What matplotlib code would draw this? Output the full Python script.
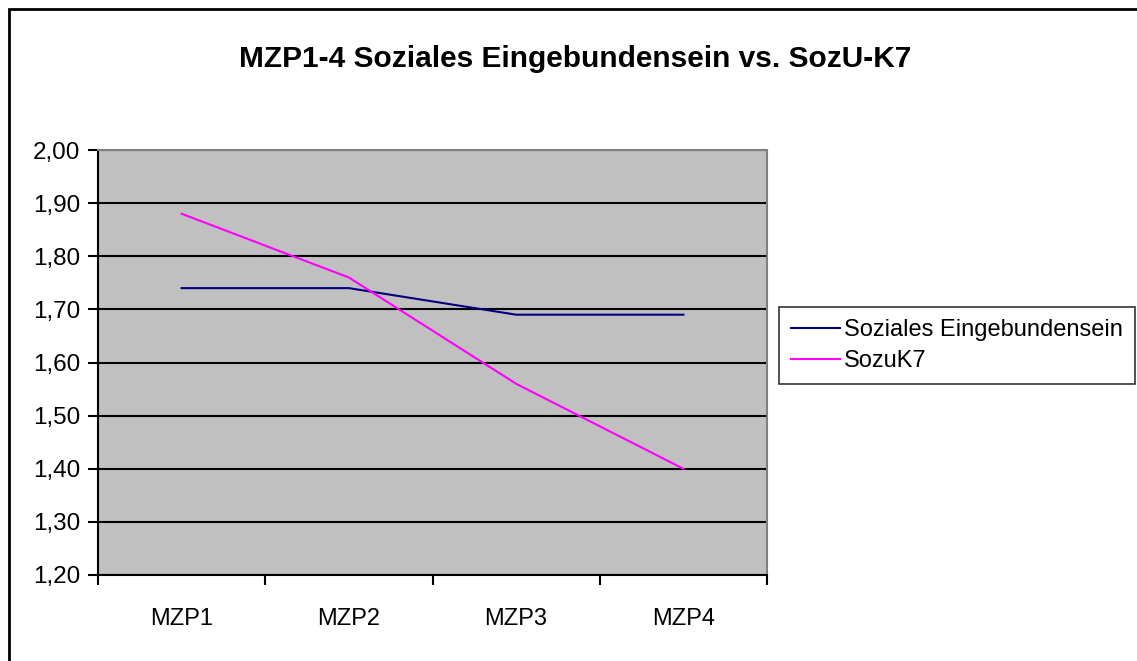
import matplotlib
matplotlib.use("Agg")
import matplotlib.pyplot as plt
from matplotlib.patches import Rectangle

kategorien = ["MZP1", "MZP2", "MZP3", "MZP4"]
soziales = [1.74, 1.74, 1.69, 1.69]
sozuk7 = [1.88, 1.76, 1.56, 1.40]
y_ticks = [1.20, 1.30, 1.40, 1.50, 1.60, 1.70, 1.80, 1.90, 2.00]

plt.rcParams["font.family"] = ["Liberation Sans", "DejaVu Sans"]

fig = plt.figure(figsize=(11.37, 6.61), dpi=100)
ax = fig.add_axes([98 / 1137, 1 - 575 / 661, (767 - 98) / 1137, (575 - 150) / 661])

# Rahmen um das ganze Diagramm
fig.patches.append(Rectangle((9 / 1137, -0.1), 1.2, 1 - 9 / 661 + 0.1,
                             transform=fig.transFigure, fill=False,
                             edgecolor="black", linewidth=2))

ax.set_facecolor("#C0C0C0")
x = [i + 0.5 for i in range(len(kategorien))]
ax.plot(x, soziales, color="#000080", linewidth=1.5, label="Soziales Eingebundensein")
ax.plot(x, sozuk7, color="#FF00FF", linewidth=1.5, label="SozuK7")

ax.set_xlim(0, 4)
ax.set_ylim(1.20, 2.00)
ax.set_yticks(y_ticks)
ax.set_yticklabels([f"{v:.2f}".replace(".", ",") for v in y_ticks], fontsize=17.5)
ax.set_xticks(range(5))
ax.set_xticklabels([])
ax.set_xticks(x, minor=True)
ax.set_xticklabels(kategorien, minor=True, fontsize=17)
ax.tick_params(axis="x", which="minor", length=0, pad=24)
ax.tick_params(axis="x", which="major", length=7, width=1.5, direction="out")
ax.tick_params(axis="y", length=7, width=1.5, direction="out", pad=6)

ax.yaxis.grid(True, color="black", linewidth=1.5)
ax.set_axisbelow(True)
for side in ["top", "right"]:
    ax.spines[side].set_color("#808080")
    ax.spines[side].set_linewidth(1.5)
for side in ["left", "bottom"]:
    ax.spines[side].set_color("black")
    ax.spines[side].set_linewidth(1.5)

fig.text(575 / 1137, 1 - 67 / 661, "MZP1-4 Soziales Eingebundensein vs. SozU-K7",
         ha="center", va="baseline", fontsize=21.5, fontweight="bold")

leg = fig.legend(loc="upper left", bbox_to_anchor=(779 / 1137, 1 - 307 / 661),
                 fontsize=17, frameon=True, fancybox=False, edgecolor="black",
                 handlelength=2.1, handletextpad=0.15, borderpad=0.5,
                 labelspacing=0.38, borderaxespad=0)
leg.get_frame().set_linewidth(1.2)

fig.savefig("out.png", dpi=100)
